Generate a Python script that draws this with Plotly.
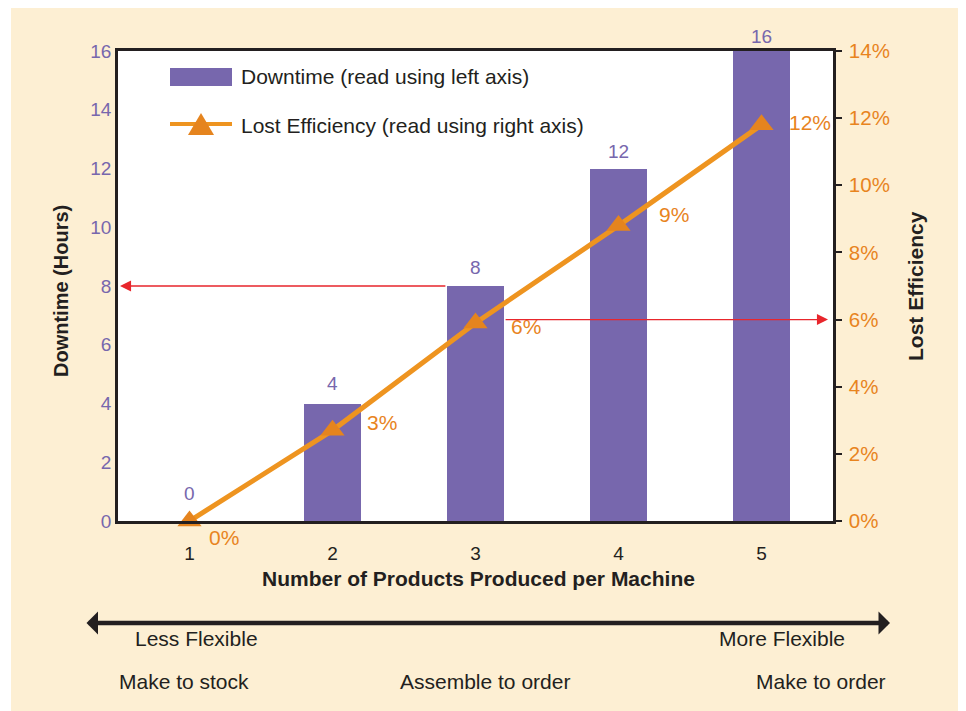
import plotly.graph_objects as go

# ---- data ----
products = [1, 2, 3, 4, 5]
downtime_hours = [0, 4, 8, 12, 16]
lost_efficiency_pct = [0, 2.7, 5.9, 8.8, 11.8]
left_ticks = [0, 2, 4, 6, 8, 10, 12, 14, 16]
right_ticks = [0, 2, 4, 6, 8, 10, 12, 14]
flex_labels = ["Less Flexible", "More Flexible"]
strategy_labels = ["Make to stock", "Assemble to order", "Make to order"]

# ---- style ----
OFF = 8  # page body margin of the html page
W, H = 966, 711
L, T = 118 - OFF, 51 - OFF
PW, PH = 715, 470
R, B = W - L - PW, H - T - PH
PURPLE = "#7767AD"
ORANGE_LINE = "#EE9420"
ORANGE_MK = "#E5841E"
ORANGE_TXT = "#E8841E"
RED = "#E8262C"
INK = "#231F20"
PEACH = "#FDEFD3"
FONT = "Liberation Sans, Arial, sans-serif"


def fx(px):
    # px in the reference image coordinates
    return (px - OFF - L) / PW


def fy(py):
    return (T + PH - (py - OFF)) / PH


def note(x, y, text, size=18, color=INK, xanchor="center", **kw):
    d = dict(x=x, y=y, xref="paper", yref="paper", text=text, showarrow=False,
             xanchor=xanchor, yanchor="middle", font=dict(color=color, size=size, family=FONT))
    d.update(kw)
    return d


fig = go.Figure()
fig.add_trace(go.Bar(
    x=products, y=downtime_hours, name="Downtime (read using left axis)",
    width=0.4, marker=dict(color=PURPLE, line=dict(width=0)),
    showlegend=False, yaxis="y"))
fig.add_trace(go.Scatter(
    x=products, y=lost_efficiency_pct, name="Lost Efficiency (read using right axis)",
    mode="lines+markers", yaxis="y2", cliponaxis=False,
    line=dict(color=ORANGE_LINE, width=5),
    marker=dict(symbol="triangle-up", size=21, color=ORANGE_MK),
    showlegend=False))

ann = []
# bar value labels
bar_shift = [28, 20, 19, 17, 15]
for xv, yv, s in zip(products, downtime_hours, bar_shift):
    ann.append(dict(x=xv, y=yv, xref="x", yref="y", text=str(yv), showarrow=False,
                    xanchor="center", yanchor="middle", yshift=s,
                    font=dict(color=PURPLE, size=19, family=FONT)))
# pct labels
pct_shift = [(34, -16), (49, 8), (50, -4), (55, 11), (48, 2)]
for xv, yv, (sx, sy) in zip(products, lost_efficiency_pct, pct_shift):
    ann.append(dict(x=xv, y=yv, xref="x", yref="y2", text=f"{round(yv)}%", showarrow=False,
                    xanchor="center", yanchor="middle", xshift=sx, yshift=sy,
                    font=dict(color=ORANGE_TXT, size=21, family=FONT)))
# red reading arrows
ann.append(dict(x=0.5, y=8, xref="x", yref="y", ax=2.8, ay=8, axref="x", ayref="y",
                text="", showarrow=True, arrowhead=2, arrowsize=1.7, arrowwidth=1.3,
                arrowcolor=RED, standoff=2))
ann.append(dict(x=5.5, y=6, xref="x", yref="y2", ax=3.2, ay=6, axref="x", ayref="y2",
                text="", showarrow=True, arrowhead=2, arrowsize=1.7, arrowwidth=1.3,
                arrowcolor=RED, standoff=5))
# axis titles
ann.append(note(fx(61), fy(291), "<b>Downtime (Hours)</b>", size=20, textangle=-90))
ann.append(note(fx(915), fy(286), "<b>Lost Efficiency</b>", size=21, textangle=-90))
ann.append(note(fx(478), fy(578), "<b>Number of Products Produced per Machine</b>", size=21))
# custom legend text
ann.append(note(fx(239), fy(77), "Downtime (read using left axis)", size=21, xanchor="left"))
ann.append(note(fx(239), fy(125), "Lost Efficiency (read using right axis)", size=21,
                xanchor="left"))
# flexibility arrow
ann.append(dict(x=fx(890), y=fy(623), xref="paper", yref="paper", ax=-(890 - 85), ay=0,
                axref="pixel", ayref="pixel", text="", showarrow=True,
                arrowside="end+start", arrowhead=1, startarrowhead=1,
                arrowsize=0.85, startarrowsize=0.85, arrowwidth=4.5, arrowcolor=INK))
for txt, px in zip(flex_labels, [196, 782]):
    ann.append(note(fx(px), fy(638), txt, size=21))
for txt, px in zip(strategy_labels, [184, 485, 821]):
    ann.append(note(fx(px), fy(681), txt, size=21))

shapes = [
    # white page border strip on the left
    dict(type="rect", xref="paper", yref="paper", x0=fx(OFF), x1=fx(11), y0=fy(730), y1=fy(0),
         fillcolor="white", line=dict(width=0), layer="below"),
    # custom legend symbols
    dict(type="rect", xref="paper", yref="paper", x0=fx(170), x1=fx(232), y0=fy(86), y1=fy(68),
         fillcolor=PURPLE, line=dict(width=0)),
    dict(type="line", xref="paper", yref="paper", x0=fx(170), x1=fx(232), y0=fy(124), y1=fy(124),
         line=dict(color=ORANGE_LINE, width=4)),
    dict(type="path", xref="paper", yref="paper",
         path=f"M{fx(188)},{fy(135)} L{fx(214)},{fy(135)} L{fx(201)},{fy(113)} Z",
         fillcolor=ORANGE_MK, line=dict(width=0)),
]

fig.update_layout(
    width=W, height=H,
    margin=dict(l=L, r=R, t=T, b=B, pad=0),
    paper_bgcolor=PEACH, plot_bgcolor="white",
    font=dict(family=FONT, color=INK, size=18),
    bargap=0,
    xaxis=dict(range=[0.5, 5.5], tickvals=products, ticktext=[str(p) for p in products],
               showline=True, linecolor=INK, linewidth=2.5, mirror=True,
               showgrid=False, zeroline=False, ticks="", ticklabelstandoff=13,
               tickfont=dict(color=INK, size=19)),
    yaxis=dict(range=[0, 16], tickvals=left_ticks, showline=True, linecolor=INK, linewidth=2.5,
               showgrid=False, zeroline=False, ticks="", ticklabelstandoff=0,
               tickfont=dict(color=PURPLE, size=19)),
    yaxis2=dict(range=[0, 14], tickvals=right_ticks, ticktext=[f"{t}%" for t in right_ticks],
                overlaying="y", side="right", showline=True, linecolor=INK, linewidth=2.5,
                showgrid=False, zeroline=False, ticks="outside", ticklen=6, tickcolor=INK,
                tickwidth=1.5, ticklabelstandoff=3, tickfont=dict(color=ORANGE_TXT, size=20.5)),
    annotations=ann,
    shapes=shapes,
)

fig.write_html("out.html")
